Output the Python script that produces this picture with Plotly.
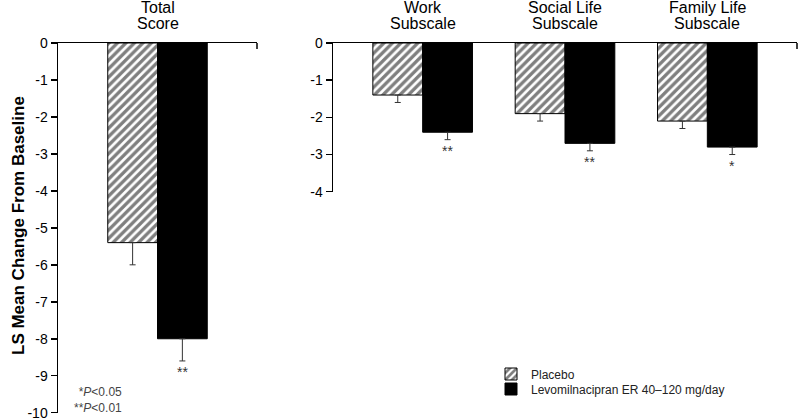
import plotly.graph_objects as go

# ---- data ----
total_cat = ["Total Score"]
total_placebo = [-5.4]
total_placebo_err = [0.6]
total_levo = [-8.0]
total_levo_err = [0.6]
total_sig = ["**"]

sub_cats = ["Work Subscale", "Social Life Subscale", "Family Life Subscale"]
sub_placebo = [-1.4, -1.9, -2.1]
sub_placebo_err = [0.2, 0.2, 0.2]
sub_levo = [-2.4, -2.7, -2.8]
sub_levo_err = [0.2, 0.2, 0.2]
sub_sig = ["**", "**", "*"]

left_yticks = list(range(0, -11, -1))
right_yticks = list(range(0, -5, -1))

series_names = ["Placebo", "Levomilnacipran ER 40\u2013120 mg/day"]

W, H = 800, 419
FONT = "Liberation Sans, Arial, Helvetica, sans-serif"

def px_x(p):
    return p / W

def px_y(p):
    return 1 - p / H

fig = go.Figure()

hatch = dict(shape="/", fgcolor="black", bgcolor="white", size=6, solidity=0.55)

def add_pair(cats, plac, plac_err, levo, levo_err, xa, ya, showlegend):
    fig.add_trace(go.Bar(
        x=cats, y=plac, name=series_names[0], xaxis=xa, yaxis=ya,
        marker=dict(color="white", pattern=hatch, line=dict(color="black", width=1)),
        error_y=dict(type="data", symmetric=False, array=[0] * len(cats), arrayminus=plac_err,
                     thickness=1, width=3, color="#333333"),
        showlegend=showlegend, legend="legend", hoverinfo="skip"))
    fig.add_trace(go.Bar(
        x=cats, y=levo, name=series_names[1], xaxis=xa, yaxis=ya,
        marker=dict(color="black", line=dict(color="black", width=1)),
        error_y=dict(type="data", symmetric=False, array=[0] * len(cats), arrayminus=levo_err,
                     thickness=1, width=3, color="#333333"),
        showlegend=showlegend, legend="legend2", hoverinfo="skip"))

add_pair(total_cat, total_placebo, total_placebo_err, total_levo, total_levo_err, "x", "y", True)
add_pair(sub_cats, sub_placebo, sub_placebo_err, sub_levo, sub_levo_err, "x2", "y2", False)

def split_title(c):
    words = c.split(" ")
    return [" ".join(words[:-1]), words[-1]]

def ytext(vals):
    return [str(v) for v in vals]  # plain hyphen minus, as in the reference

tick_font = dict(family=FONT, size=14, color="black")
y_top = px_y(43)

common_x = dict(side="top", type="category", showline=True, linecolor="black", linewidth=1.5,
                ticks="", showticklabels=False, showgrid=False, zeroline=False, automargin=False)
common_y = dict(ticks="outside", ticklen=6, tickwidth=1.5, tickcolor="black",
                showline=True, linecolor="black", linewidth=1.5, showgrid=False, zeroline=False,
                tickfont=tick_font, automargin=False, ticklabeloverflow="allow")

legend_common = dict(xanchor="left", yanchor="middle",
                     font=dict(family=FONT, size=12, color="#222222"),
                     bgcolor="rgba(0,0,0,0)", itemwidth=30, borderwidth=0)

fig.update_layout(
    width=W, height=H,
    margin=dict(l=0, r=0, t=0, b=0),
    plot_bgcolor="white", paper_bgcolor="white",
    barmode="group", bargap=0.3, bargroupgap=0,
    font=dict(family=FONT, size=14, color="black"),
    xaxis=dict(domain=[px_x(58), px_x(257)], anchor="y", range=[-0.7, 0.7], **common_x),
    yaxis=dict(domain=[px_y(412.7), y_top], anchor="x", range=[-10, 0],
               tickvals=left_yticks, ticktext=ytext(left_yticks), **common_y),
    xaxis2=dict(domain=[px_x(333), px_x(797)], anchor="y2", range=[-0.63, 2.63], **common_x),
    yaxis2=dict(domain=[px_y(191.7), y_top], anchor="x2", range=[-4, 0],
                tickvals=right_yticks, ticktext=ytext(right_yticks), **common_y),
    legend=dict(x=px_x(491), y=px_y(374), **legend_common),
    legend2=dict(x=px_x(491), y=px_y(389), **legend_common),
)

# category titles above each group (two lines, tight line spacing)
for cats, xa in [(total_cat, "x"), (sub_cats, "x2")]:
    for c in cats:
        for line, ymid in zip(split_title(c), [7.5, 23.0]):
            fig.add_annotation(x=c, xref=xa, y=px_y(ymid), yref="paper", text=line,
                               showarrow=False, xanchor="center", yanchor="middle",
                               font=dict(family=FONT, size=16, color="black"))

# right-end ticks on the top axis lines
for xd in ["x domain", "x2 domain"]:
    fig.add_shape(type="line", xref=xd, yref="paper", x0=1, x1=1, y0=y_top, y1=y_top - 6 / H,
                  line=dict(color="black", width=1.5))

# significance markers, centred on the Levomilnacipran bar (category + 0.175)
def add_sig(n, levo, levo_err, sig, xa, ya):
    for i, v, e, s in zip(range(n), levo, levo_err, sig):
        fig.add_annotation(x=i + 0.175, y=v - e, xref=xa, yref=ya, text=s, showarrow=False,
                           xanchor="center", yanchor="top", yshift=-1,
                           font=dict(family=FONT, size=14, color="#333333"))

add_sig(len(total_cat), total_levo, total_levo_err, total_sig, "x", "y")
add_sig(len(sub_cats), sub_levo, sub_levo_err, sub_sig, "x2", "y2")

# y-axis title
fig.add_annotation(x=px_x(18), y=px_y(226), xref="paper", yref="paper",
                   text="<b>LS Mean Change From Baseline</b>", textangle=-90, showarrow=False,
                   xanchor="center", yanchor="middle",
                   font=dict(family=FONT, size=17, color="black"))

# p-value footnote
fig.add_annotation(x=px_x(124), y=px_y(399.5), xref="paper", yref="paper",
                   text="*<i>P</i>&lt;0.05<br>**<i>P</i>&lt;0.01", showarrow=False,
                   xanchor="right", yanchor="middle", align="right",
                   font=dict(family=FONT, size=12, color="#444444"))

fig.write_html(
    "out.html",
    config={"displayModeBar": False, "staticPlot": True},
    post_script="document.body.style.margin='0';document.body.style.overflow='hidden';",
)
